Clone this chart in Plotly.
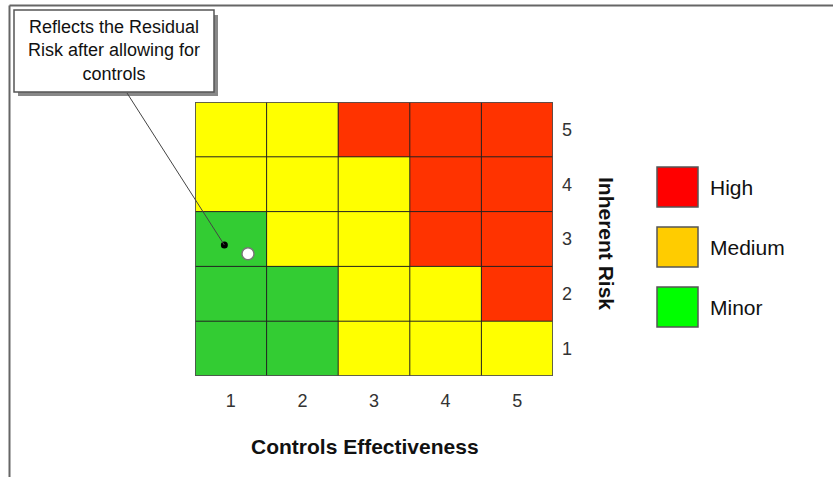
import plotly.graph_objects as go

# ---------------- data ----------------
controls = [1, 2, 3, 4, 5]          # x categories (Controls Effectiveness)
inherent = [1, 2, 3, 4, 5]          # y categories (Inherent Risk)
# risk level codes per inherent row (bottom -> top), per control column: 0 minor, 1 medium, 2 high
risk_row1 = [0, 0, 1, 1, 1]
risk_row2 = [0, 0, 1, 1, 2]
risk_row3 = [0, 1, 1, 2, 2]
risk_row4 = [1, 1, 1, 2, 2]
risk_row5 = [1, 1, 2, 2, 2]
residual_x = [1.24]
residual_y = [2.73]
pointer_x = [0.91]
pointer_y = [2.89]
legend_labels = ["High", "Medium", "Minor"]
legend_colors = ["#FF0000", "#FFCC00", "#00FF00"]
callout_text = "Reflects the Residual<br>Risk after allowing for<br>controls"
x_title = "Controls Effectiveness"
y_title = "Inherent Risk"

W, H = 833, 477
def px(x):
    return x / W
def py(y):
    return 1 - y / H

# plot area in pixels
PL, PR, PT, PB = 195, 553, 102, 376
XR = [controls[0] - 0.5, controls[-1] + 0.5]
YR = [inherent[0] - 0.5, inherent[-1] + 0.5]
def data_to_paper(xv, yv):
    fx = px(PL) + (xv - XR[0]) / (XR[1] - XR[0]) * (px(PR) - px(PL))
    fy = py(PB) + (yv - YR[0]) / (YR[1] - YR[0]) * (py(PT) - py(PB))
    return fx, fy

FONT = "Arial, Liberation Sans, sans-serif"
z = [risk_row1, risk_row2, risk_row3, risk_row4, risk_row5]
G, Y, R = "#33CC33", "#FFFF00", "#FF3300"
cscale = [[0, G], [0.25, G], [0.25, Y], [0.75, Y], [0.75, R], [1, R]]

fig = go.Figure()
fig.add_trace(go.Heatmap(x=controls, y=inherent, z=z, zmin=0, zmax=2,
                         colorscale=cscale, showscale=False, hoverinfo="skip"))

shapes = []
# cell borders
for i in range(len(controls) + 1):
    xb = XR[0] + i
    shapes.append(dict(type="line", xref="x", yref="y", x0=xb, x1=xb, y0=YR[0], y1=YR[1],
                       line=dict(color="#222222", width=1)))
for j in range(len(inherent) + 1):
    yb = YR[0] + j
    shapes.append(dict(type="line", xref="x", yref="y", y0=yb, y1=yb, x0=XR[0], x1=XR[1],
                       line=dict(color="#222222", width=1)))
shapes.append(dict(type="rect", xref="x", yref="y", x0=XR[0], x1=XR[1], y0=YR[0], y1=YR[1],
                   line=dict(color="#555555", width=1.5)))

# page frame (top and left)
shapes.append(dict(type="line", xref="paper", yref="paper", x0=px(9.5), x1=px(833),
                   y0=py(5.5), y1=py(5.5), line=dict(color="#666666", width=2)))
shapes.append(dict(type="line", xref="paper", yref="paper", x0=px(9.5), x1=px(9.5),
                   y0=py(5.5), y1=py(477), line=dict(color="#666666", width=2)))

# callout box with shadow
shapes.append(dict(type="rect", xref="paper", yref="paper", x0=px(18), x1=px(218),
                   y0=py(15), y1=py(96), fillcolor="#888888", line=dict(width=0), layer="above"))
shapes.append(dict(type="rect", xref="paper", yref="paper", x0=px(14), x1=px(214),
                   y0=py(10), y1=py(92), fillcolor="white",
                   line=dict(color="#555555", width=1.5), layer="above"))
# pointer line from callout to marker
pfx, pfy = data_to_paper(pointer_x[0], pointer_y[0])
shapes.append(dict(type="line", xref="paper", yref="paper", x0=px(127), y0=py(93),
                   x1=pfx, y1=pfy, line=dict(color="#444444", width=1)))

# legend swatches
for k, (lab, col) in enumerate(zip(legend_labels, legend_colors)):
    top = 167 + 60 * k
    shapes.append(dict(type="rect", xref="paper", yref="paper", x0=px(657), x1=px(698),
                       y0=py(top), y1=py(top + 40), fillcolor=col,
                       line=dict(color="#555555", width=1.5)))

annotations = []
for k, lab in enumerate(legend_labels):
    top = 167 + 60 * k
    annotations.append(dict(xref="paper", yref="paper", x=px(708), y=py(top + 20),
                            text=lab, showarrow=False, xanchor="left", yanchor="middle",
                            font=dict(family=FONT, size=21, color="#111111")))
annotations.append(dict(xref="paper", yref="paper", x=px(114), y=py(50), text=callout_text,
                        showarrow=False, xanchor="center", yanchor="middle",
                        font=dict(family=FONT, size=18, color="#111111")))
annotations.append(dict(xref="paper", yref="paper", x=px(365), y=py(446), text="<b>" + x_title + "</b>",
                        showarrow=False, xanchor="center", yanchor="middle",
                        font=dict(family=FONT, size=21, color="#111111")))
annotations.append(dict(xref="paper", yref="paper", x=px(607), y=py(243), text="<b>" + y_title + "</b>",
                        showarrow=False, xanchor="center", yanchor="middle", textangle=90,
                        font=dict(family=FONT, size=21, color="#111111")))

# pointer dot and residual marker
fig.add_trace(go.Scatter(x=pointer_x, y=pointer_y, mode="markers", hoverinfo="skip",
                         marker=dict(color="black", size=7)))
fig.add_trace(go.Scatter(x=residual_x, y=residual_y, mode="markers", hoverinfo="skip",
                         marker=dict(color="white", size=12, line=dict(color="#777777", width=1.5))))

fig.update_layout(
    width=W, height=H, margin=dict(l=0, r=0, t=0, b=0),
    paper_bgcolor="white", plot_bgcolor="white", showlegend=False,
    shapes=shapes, annotations=annotations,
    xaxis=dict(domain=[px(PL), px(PR)], range=XR, tickvals=controls,
               showgrid=False, zeroline=False, showline=False, ticks="",
               ticklabelstandoff=12, tickfont=dict(family=FONT, size=18, color="#333333")),
    yaxis=dict(domain=[py(PB), py(PT)], range=YR, tickvals=inherent, side="right",
               showgrid=False, zeroline=False, showline=False, ticks="",
               ticklabelstandoff=8, tickfont=dict(family=FONT, size=18, color="#333333")),
)
fig.write_html("out.html", config={"displayModeBar": False},
               post_script="document.body.style.margin='0';document.body.style.overflow='hidden';")
